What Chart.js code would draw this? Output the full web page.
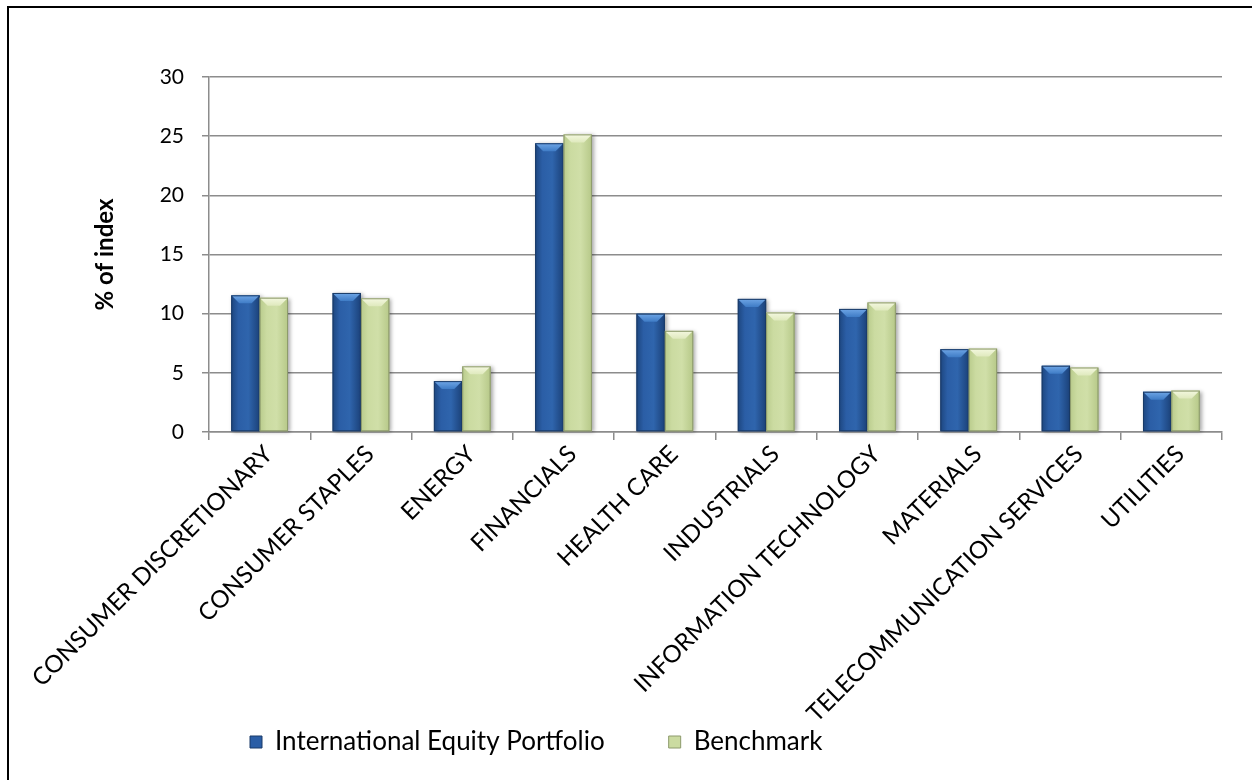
<!DOCTYPE html>
<html><head><meta charset="utf-8">
<script src="https://cdn.jsdelivr.net/npm/chart.js@4.4.1/dist/chart.umd.min.js"></script>
<style>
html,body{margin:0;padding:0;background:#fff;overflow:hidden;width:1252px;height:780px}
#frame{position:absolute;left:7px;top:6px;width:1300px;height:900px;border:2px solid #000;box-sizing:border-box}
#wrap{position:absolute;left:0;top:0;width:1252px;height:780px}
</style></head><body>
<div id="frame"></div>
<div id="wrap"><canvas id="c" width="1252" height="780"></canvas></div>
<script>
const categories = ['CONSUMER DISCRETIONARY','CONSUMER STAPLES','ENERGY','FINANCIALS','HEALTH CARE','INDUSTRIALS','INFORMATION TECHNOLOGY','MATERIALS','TELECOMMUNICATION SERVICES','UTILITIES'];
const portfolioValues = [11.55, 11.75, 4.3, 24.4, 10.0, 11.25, 10.4, 7.0, 5.6, 3.4];
const benchmarkValues = [11.35, 11.3, 5.55, 25.15, 8.55, 10.1, 10.95, 7.05, 5.45, 3.5];
const yTicks = [0, 5, 10, 15, 20, 25, 30];
const seriesNames = ['International Equity Portfolio', 'Benchmark'];

const FONT = 'Lato';
const LEGEND_SIZE = 26;
const styles = [
  {body: [[0,'#1d467f'],[0.25,'#2b5ea6'],[0.6,'#2f65ad'],[1,'#1b4179']], top: ['#6fa6e6','#3f7cc6'], border: '#1a3b68'},
  {body: [[0,'#b9cb8c'],[0.25,'#cbdba1'],[0.6,'#d0dfa8'],[1,'#b6c888']], top: ['#f4f8e0','#dfe9bd'], border: '#8d9a6c'}
];

const bevel = {
  id: 'bevel',
  afterDatasetsDraw(chart) {
    const ctx = chart.ctx;
    chart.data.datasets.forEach((ds, i) => {
      const meta = chart.getDatasetMeta(i);
      const st = styles[i];
      meta.data.forEach(bar => {
        const p = bar.getProps(['x','y','base','width'], true);
        const l = p.x - p.width/2, r = p.x + p.width/2;
        const t = Math.min(p.y, p.base), b = Math.max(p.y, p.base);
        ctx.save();
        ctx.shadowColor = 'rgba(0,0,0,0.35)';
        ctx.shadowBlur = 4; ctx.shadowOffsetX = 2; ctx.shadowOffsetY = 1;
        const g = ctx.createLinearGradient(l, 0, r, 0);
        st.body.forEach(([o,c]) => g.addColorStop(o, c));
        ctx.fillStyle = g;
        ctx.fillRect(l, t, r - l, b - t);
        ctx.restore();
        ctx.save();
        const bw = Math.min(8, (r - l) / 3), bh = Math.min(8, b - t);
        const tg = ctx.createLinearGradient(0, t, 0, t + bh);
        tg.addColorStop(0, st.top[0]); tg.addColorStop(1, st.top[1]);
        ctx.fillStyle = tg;
        ctx.beginPath();
        ctx.moveTo(l, t); ctx.lineTo(r, t); ctx.lineTo(r - bw, t + bh); ctx.lineTo(l + bw, t + bh);
        ctx.closePath(); ctx.fill();
        ctx.strokeStyle = st.border; ctx.lineWidth = 1;
        ctx.strokeRect(l + 0.5, t + 0.5, r - l - 1, b - t - 1);
        ctx.restore();
      });
    });
  }
};

const legendShift = {
  id: 'legendShift',
  beforeDraw(chart) {
    const lg = chart.legend;
    const pad = lg.options.labels.padding;
    const w = lg.right - lg.left, h = lg.bottom - lg.top;
    lg.left = 250 - pad; lg.right = lg.left + w;
    lg.top = 742 - pad - LEGEND_SIZE / 2; lg.bottom = lg.top + h;
  }
};

new Chart(document.getElementById('c'), {
  type: 'bar',
  data: {
    labels: categories,
    datasets: [
      {label: seriesNames[0], data: portfolioValues, backgroundColor: '#2b5ea6', borderColor: '#1a3b68', borderWidth: 1},
      {label: seriesNames[1], data: benchmarkValues, backgroundColor: '#cbdba1', borderColor: '#8d9a6c', borderWidth: 1}
    ]
  },
  options: {
    responsive: false,
    animation: false,
    devicePixelRatio: 1,
    layout: {padding: {left: 0, top: 77, right: 30, bottom: -82}},
    datasets: {bar: {categoryPercentage: 0.56, barPercentage: 1}},
    plugins: {
      title: {display: false},
      tooltip: {enabled: false},
      legend: {
        position: 'bottom', align: 'start',
        labels: {font: {family: FONT, size: LEGEND_SIZE}, color: '#000', boxWidth: 12, boxHeight: 12, padding: 64}
      }
    },
    scales: {
      x: {
        grid: {display: true, drawOnChartArea: false, drawTicks: true, tickLength: 8, offset: true, color: '#8c8c8c', lineWidth: 1.5},
        border: {display: true, color: '#8c8c8c', width: 1.5},
        ticks: {font: {family: FONT, size: 24}, color: '#000', minRotation: 45, maxRotation: 45, autoSkip: false, padding: 0, labelOffset: 9},
        afterFit(s) { s.height = 330; }
      },
      y: {
        min: 0, max: 30,
        afterBuildTicks(s) { s.ticks = yTicks.map(v => ({value: v})); },
        grid: {color: '#8c8c8c', lineWidth: 1.5, tickLength: 7, drawTicks: true},
        border: {display: true, color: '#8c8c8c', width: 1.5},
        ticks: {font: {family: FONT, size: 21}, color: '#000', padding: 18},
        title: {display: true, text: '% of index', font: {family: FONT, size: 24, weight: 'bold'}, color: '#000', padding: {top: 91, bottom: 0}},
        afterFit(s) { s.width = 209; }
      }
    }
  },
  plugins: [bevel, legendShift]
});
</script>
</body></html>
